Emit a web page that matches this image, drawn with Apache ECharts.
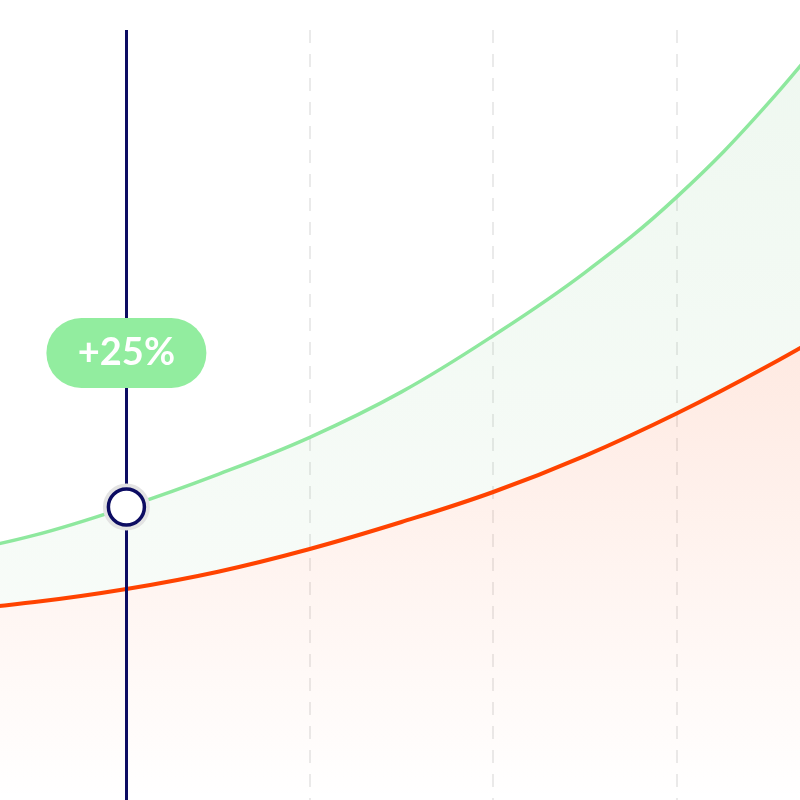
<!DOCTYPE html>
<html>
<head>
<meta charset="utf-8">
<script src="https://cdn.jsdelivr.net/npm/echarts@6/dist/echarts.min.js"></script>
<style>
  html, body { margin: 0; padding: 0; background: #ffffff; overflow: hidden; width: 800px; height: 800px; }
  #chart { position: absolute; left: -57px; top: 0; width: 917px; height: 800px; }
</style>
</head>
<body>
<div id="chart"></div>
<script>
// ---- data ----
const xCategories = ['0', '0.5', '1', '1.5', '2', '2.5', '3', '3.5', '4', '4.5', '5'];
const greenValues = [31.8, 34.4, 38.05, 42.3, 47.1, 53.0, 60.3, 68.5, 78.3, 90.5, 105.0];
const redValues = [24.5, 25.7, 27.4, 29.65, 32.6, 36.1, 40.0, 44.7, 50.2, 56.4, 63.2];
const markerIndex = 2;
const changeLabel = '+25%';

// ---- derived tables ----
const bandValues = greenValues.map((g, i) => +(g - redValues[i]).toFixed(2));
const markerPoint = [markerIndex, greenValues[markerIndex]];

const chart = echarts.init(document.getElementById('chart'), null, { renderer: 'canvas' });

const option = {
  animation: false,
  backgroundColor: '#ffffff',
  grid: { left: 0, right: 0, top: 30, bottom: 0, containLabel: false },
  xAxis: {
    type: 'category', data: xCategories, boundaryGap: false,
    axisLine: { show: false }, axisTick: { show: false }, axisLabel: { show: false },
    splitLine: { show: true, interval: 1, lineStyle: { color: '#e4e4e4', width: 1.5, type: [13, 11] } }
  },
  yAxis: {
    type: 'value', min: 0, max: 100,
    axisLine: { show: false }, axisTick: { show: false }, axisLabel: { show: false },
    splitLine: { show: false }
  },
  series: [
    {
      name: 'base', type: 'line', stack: 'total', data: redValues, smooth: 0.4,
      symbol: 'none', z: 3,
      lineStyle: { color: '#ff4300', width: 4 },
      areaStyle: {
        color: new echarts.graphic.LinearGradient(0, 0, 0, 1, [
          { offset: 0, color: 'rgba(250, 90, 30, 0.20)' },
          { offset: 1, color: 'rgba(250, 90, 30, 0.00)' }
        ])
      }
    },
    {
      name: 'band', type: 'line', stack: 'total', data: bandValues, smooth: 0.4,
      symbol: 'none', z: 2,
      lineStyle: { color: '#8ee89e', width: 3.5 },
      areaStyle: {
        color: new echarts.graphic.LinearGradient(0, 0, 0, 1, [
          { offset: 0, color: 'rgba(120, 195, 130, 0.18)' },
          { offset: 1, color: 'rgba(120, 195, 130, 0.08)' }
        ])
      }
    },
    {
      name: 'guide', type: 'scatter', data: [markerPoint], symbolSize: 0, z: 4,
      silent: true,
      markLine: {
        symbol: 'none', silent: true, label: { show: false },
        lineStyle: { color: '#0c0c62', width: 3, type: 'solid' },
        data: [{ xAxis: markerIndex }]
      }
    },
    {
      name: 'halo', type: 'scatter', data: [markerPoint], symbolSize: 47, z: 5,
      itemStyle: { color: '#e3e3e3', opacity: 1 }
    },
    {
      name: 'marker', type: 'scatter', data: [markerPoint], symbolSize: 36, z: 6,
      itemStyle: { color: '#ffffff', borderColor: '#0c0c62', borderWidth: 3.5, opacity: 1 },
      label: {
        show: true, position: 'inside', offset: [0, -154],
        formatter: changeLabel,
        width: 160, height: 70, lineHeight: 70,
        align: 'center', verticalAlign: 'middle',
        backgroundColor: '#92ed9f', borderRadius: 35,
        color: '#ffffff', fontSize: 38, fontWeight: 'bold',
        fontFamily: 'Lato, Inter, sans-serif'
      }
    }
  ]
};

chart.setOption(option);
</script>
</body>
</html>
